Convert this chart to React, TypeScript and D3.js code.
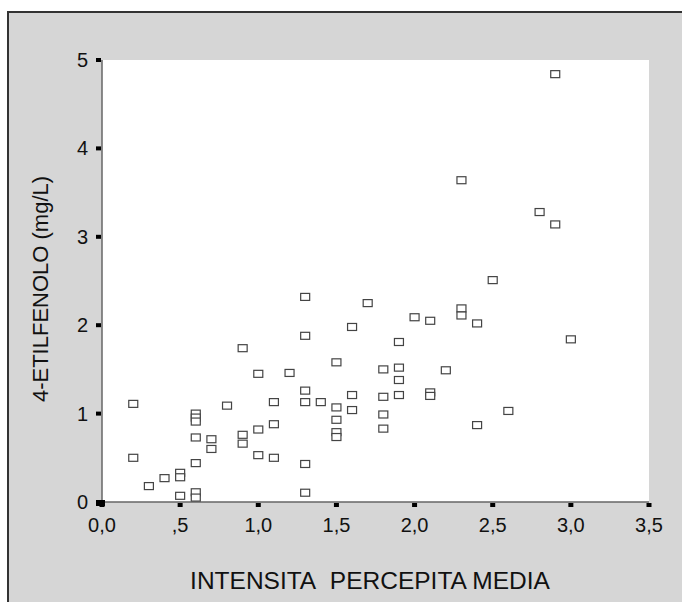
import React from "react";
import * as d3 from "d3";

const intensity = [
  0.2, 0.2, 0.3, 0.4, 0.5, 0.5, 0.5, 0.6, 0.6, 0.6, 0.6, 0.6, 0.6, 0.6,
  0.7, 0.7, 0.8, 0.9, 0.9, 0.9, 1.0, 1.0, 1.0, 1.1, 1.1, 1.1, 1.2,
  1.3, 1.3, 1.3, 1.3, 1.3, 1.3, 1.4, 1.5, 1.5, 1.5, 1.5, 1.5,
  1.6, 1.6, 1.6, 1.7, 1.8, 1.8, 1.8, 1.8, 1.9, 1.9, 1.9, 1.9,
  2.0, 2.1, 2.1, 2.1, 2.2, 2.3, 2.3, 2.3, 2.4, 2.4, 2.5, 2.6,
  2.8, 2.9, 2.9, 3.0,
];
const etilfenolo = [
  1.11, 0.5, 0.18, 0.27, 0.33, 0.28, 0.07, 1.0, 0.955, 0.91, 0.73, 0.44, 0.11, 0.05,
  0.71, 0.6, 1.09, 1.74, 0.76, 0.66, 1.45, 0.82, 0.53, 1.13, 0.88, 0.5, 1.46,
  2.32, 1.88, 1.26, 1.13, 0.43, 0.105, 1.13, 1.58, 1.07, 0.93, 0.79, 0.735,
  1.98, 1.21, 1.04, 2.25, 1.5, 1.19, 0.99, 0.83, 1.81, 1.52, 1.38, 1.21,
  2.09, 2.05, 1.24, 1.2, 1.49, 3.64, 2.19, 2.11, 2.02, 0.87, 2.51, 1.03,
  3.28, 3.14, 4.84, 1.84,
];
const xTicks = [0, 0.5, 1, 1.5, 2, 2.5, 3, 3.5];
const xTickLabels = ["0,0", ",5", "1,0", "1,5", "2,0", "2,5", "3,0", "3,5"];
const yTicks = [0, 1, 2, 3, 4, 5];
const yTickLabels = ["0", "1", "2", "3", "4", "5"];
const xTitle = "INTENSITA\u00a0\u00a0PERCEPITA MEDIA";
const yTitle = "4-ETILFENOLO (mg/L)";

export default function App() {
  const W = 682, H = 602;
  const x = d3.scaleLinear().domain([0, 3.5]).range([102, 649]);
  const y = d3.scaleLinear().domain([0, 5]).range([502, 60]);
  const font = "'Liberation Sans', Arial, Helvetica, sans-serif";
  const mw = 9, mh = 7;
  return (
    <svg width={W} height={H} style={{ position: "absolute", left: 0, top: 0 }}>
      <rect x={0} y={0} width={W} height={H} fill="#ffffff" />
      <rect x={8} y={12} width={W + 10} height={H + 10} fill="#d6d6d6" stroke="#333" strokeWidth={2} />
      <rect x={x(0)} y={y(5)} width={x(3.5) - x(0)} height={y(0) - y(5)} fill="#ffffff" />
      <line x1={x(0)} x2={x(0)} y1={y(5)} y2={y(0)} stroke="#666" strokeWidth={1.5} />
      <line x1={x(0)} x2={x(3.5)} y1={y(0)} y2={y(0)} stroke="#666" strokeWidth={1.5} />
      {yTicks.map((t, i) => (
        <g key={"y" + i}>
          <rect x={x(0) - 6} y={y(t) - 2} width={5} height={4} fill="#000" />
          <text x={x(0) - 14} y={y(t) + 7} textAnchor="end" fontFamily={font} fontSize={20} fill="#111">
            {yTickLabels[i]}
          </text>
        </g>
      ))}
      {xTicks.map((t, i) => (
        <g key={"x" + i}>
          <rect x={x(t) - 2.5} y={y(0) + 1} width={5} height={4} fill="#000" />
          <text x={x(t)} y={y(0) + 30} textAnchor="middle" fontFamily={font} fontSize={20} fill="#111">
            {xTickLabels[i]}
          </text>
        </g>
      ))}
      <rect x={x(0) - 6} y={y(0) - 2} width={9} height={6} fill="#000" />
      {intensity.map((v, i) => (
        <rect
          key={"p" + i}
          x={x(v) - mw / 2}
          y={y(etilfenolo[i]) - mh / 2}
          width={mw}
          height={mh}
          fill="#ffffff"
          stroke="#444"
          strokeWidth={1.2}
        />
      ))}
      <text x={370} y={589} textAnchor="middle" fontFamily={font} fontSize={24.5} fill="#111">
        {xTitle}
      </text>
      <text
        transform={`translate(48, ${289}) rotate(-90)`}
        textAnchor="middle"
        fontFamily={font}
        fontSize={22}
        fill="#111"
      >
        {yTitle}
      </text>
    </svg>
  );
}
